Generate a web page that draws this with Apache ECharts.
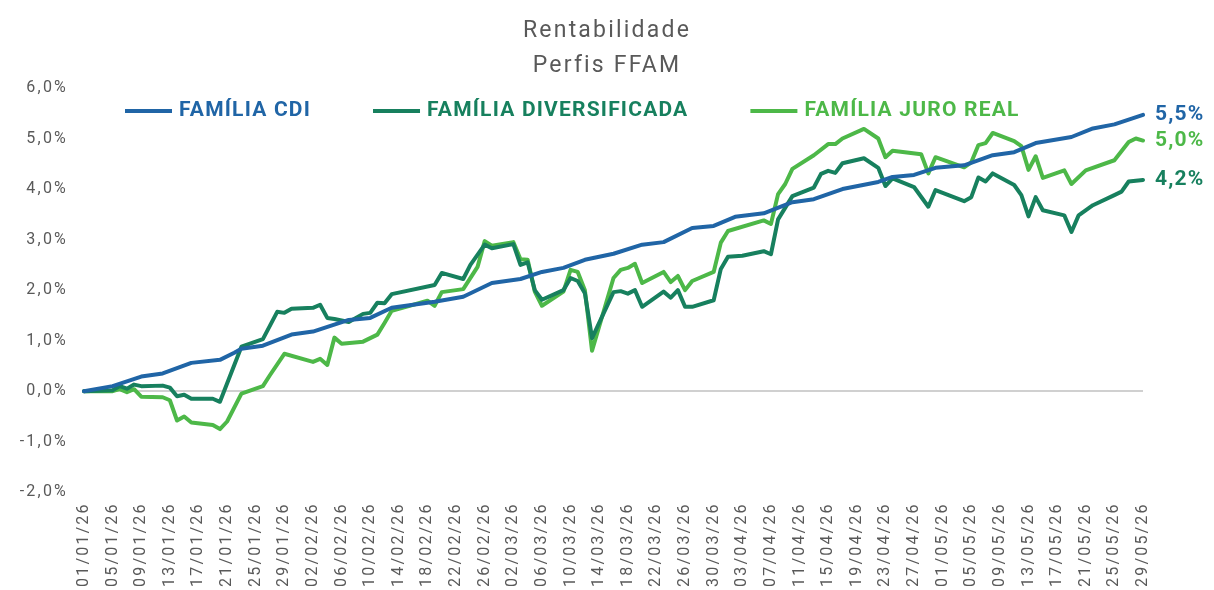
<!DOCTYPE html>
<html>
<head>
<meta charset="utf-8">
<script src="https://cdn.jsdelivr.net/npm/echarts@6/dist/echarts.min.js"></script>
<style>
html,body{margin:0;padding:0;background:#fff;}
#c{width:1214px;height:590px;}
</style>
</head>
<body>
<div id="c"></div>
<script>
// Day 0 = 01/01/26, last day = 29/05/26 (148)
const startDate = new Date(Date.UTC(2026, 0, 1));
const dayCount = 149;
const seriesNames = ['FAMÍLIA CDI', 'FAMÍLIA DIVERSIFICADA', 'FAMÍLIA JURO REAL'];
const seriesColors = ['#2065a6', '#17805e', '#4db848'];

// [day index, return %]
const cdiPoints = [[0,0],[4,0.10],[8,0.29],[11,0.35],[15,0.56],[19,0.62],[21,0.76],[22,0.84],[25,0.90],[29,1.12],[32,1.18],[37,1.41],[40,1.45],[43,1.65],[49,1.77],[53,1.87],[57,2.14],[61,2.22],[64,2.36],[67,2.44],[70,2.60],[74,2.72],[78,2.90],[81,2.95],[85,3.23],[88,3.27],[91,3.45],[95,3.52],[99,3.74],[102,3.80],[106,4.00],[111,4.14],[113,4.24],[116,4.28],[119,4.42],[123,4.47],[127,4.67],[130,4.73],[133,4.91],[138,5.03],[141,5.20],[144,5.28],[148,5.47]];

const divPoints = [[0,0],[4,0.02],[5,0.10],[6,0.05],[7,0.13],[8,0.10],[11,0.11],[12,0.07],[13,-0.10],[14,-0.07],[15,-0.15],[18,-0.15],[19,-0.21],[22,0.88],[25,1.03],[27,1.57],[28,1.55],[29,1.63],[32,1.65],[33,1.71],[34,1.45],[35,1.43],[37,1.37],[39,1.53],[40,1.55],[41,1.75],[42,1.74],[43,1.92],[49,2.10],[50,2.34],[53,2.22],[54,2.50],[56,2.90],[57,2.83],[60,2.91],[61,2.50],[62,2.55],[63,2.00],[64,1.81],[67,2.00],[68,2.24],[69,2.18],[70,1.94],[71,1.05],[74,1.96],[75,1.98],[76,1.93],[77,2.00],[78,1.67],[81,1.97],[82,1.85],[83,2.00],[84,1.67],[85,1.67],[88,1.80],[89,2.42],[90,2.66],[92,2.68],[95,2.77],[96,2.71],[97,3.40],[99,3.86],[102,4.03],[103,4.30],[104,4.36],[105,4.32],[106,4.51],[109,4.61],[111,4.42],[112,4.06],[113,4.21],[116,4.04],[118,3.65],[119,3.98],[123,3.76],[124,3.84],[125,4.23],[126,4.15],[127,4.31],[130,4.08],[131,3.88],[132,3.46],[133,3.84],[134,3.58],[137,3.48],[138,3.15],[139,3.48],[141,3.68],[144,3.88],[145,3.95],[146,4.15],[148,4.18]];

const juroPoints = [[0,0],[4,0],[5,0.04],[6,-0.02],[7,0.04],[8,-0.11],[11,-0.12],[12,-0.18],[13,-0.58],[14,-0.50],[15,-0.62],[18,-0.67],[19,-0.75],[20,-0.60],[22,-0.05],[25,0.10],[26,0.32],[28,0.74],[32,0.58],[33,0.64],[34,0.52],[35,1.06],[36,0.94],[39,0.98],[41,1.12],[42,1.35],[43,1.59],[48,1.79],[49,1.69],[50,1.96],[53,2.02],[55,2.46],[56,2.97],[57,2.88],[60,2.95],[61,2.61],[62,2.60],[63,1.97],[64,1.69],[67,1.97],[68,2.40],[69,2.36],[70,2.00],[71,0.80],[74,2.24],[75,2.40],[76,2.44],[77,2.52],[78,2.14],[81,2.36],[82,2.16],[83,2.28],[84,2.00],[85,2.18],[88,2.36],[89,2.94],[90,3.17],[95,3.38],[96,3.31],[97,3.90],[98,4.10],[99,4.40],[102,4.67],[104,4.89],[105,4.89],[106,5.00],[109,5.19],[111,5.00],[112,4.63],[113,4.76],[117,4.69],[118,4.31],[119,4.63],[123,4.43],[124,4.53],[125,4.87],[126,4.91],[127,5.11],[130,4.95],[131,4.85],[132,4.38],[133,4.65],[134,4.22],[137,4.37],[138,4.10],[140,4.37],[144,4.57],[146,4.93],[147,5.00],[148,4.96]];

// The reference text is set with a little letter spacing; apply it to canvas text drawing and measuring.
function spacingFor(font) {
  return /bold|700/.test(font || '') ? '1.2px' : '2.2px';
}
(function () {
  const P = CanvasRenderingContext2D.prototype;
  const origFill = P.fillText, origMeasure = P.measureText;
  P.fillText = function () { try { this.letterSpacing = spacingFor(this.font); } catch (e) {} return origFill.apply(this, arguments); };
  P.measureText = function () { try { this.letterSpacing = spacingFor(this.font); } catch (e) {} return origMeasure.apply(this, arguments); };
})();

const pad = n => (n < 10 ? '0' : '') + n;
const categories = [];
for (let i = 0; i < dayCount; i++) {
  const d = new Date(startDate.getTime() + i * 86400000);
  categories.push(pad(d.getUTCDate()) + '/' + pad(d.getUTCMonth() + 1) + '/' + String(d.getUTCFullYear()).slice(2));
}
function toSeries(points) {
  const arr = new Array(dayCount).fill(null);
  points.forEach(p => { arr[p[0]] = p[1]; });
  return arr;
}
const fmt = v => v.toFixed(1).replace('.', ',') + '%';
const allPoints = [cdiPoints, divPoints, juroPoints];

const chart = echarts.init(document.getElementById('c'), null, {renderer: 'canvas'});
const series = allPoints.map((pts, i) => ({
  name: seriesNames[i],
  type: 'line',
  data: toSeries(pts),
  connectNulls: true,
  showSymbol: false,
  symbol: 'none',
  smooth: false,
  z: 3 + (2 - i),
  lineStyle: {width: 4, color: seriesColors[i], cap: 'round', join: 'round'},
  itemStyle: {color: seriesColors[i]},
  endLabel: {
    show: true,
    formatter: p => fmt(p.value),
    color: seriesColors[i],
    fontFamily: 'Roboto',
    fontWeight: 'bold',
    fontSize: 21,
    distance: 12
  },
  markLine: i === 0 ? {
    silent: true,
    symbol: 'none',
    label: {show: false},
    lineStyle: {color: '#d0d0d0', width: 2, type: 'solid'},
    data: [{yAxis: 0}],
    z: 1
  } : undefined
}));

chart.setOption({
  animation: false,
  backgroundColor: '#ffffff',
  textStyle: {fontFamily: 'Roboto'},
  title: {
    text: 'Rentabilidade\nPerfis FFAM',
    left: 'center',
    top: 9,
    textStyle: {fontFamily: 'Roboto', fontSize: 23, fontWeight: 'normal', color: '#595959', lineHeight: 35}
  },
  legend: {
    left: 120,
    top: 95,
    itemWidth: 47,
    itemHeight: 4,
    itemGap: 62,
    icon: 'rect',
    data: seriesNames.map((n, i) => ({
      name: n,
      textStyle: {color: seriesColors[i]}
    })),
    textStyle: {fontFamily: 'Roboto', fontSize: 21, fontWeight: 'bold', padding: [0, 0, 0, 2]}
  },
  grid: {left: 84, right: 71, top: 88, bottom: 97, containLabel: false},
  xAxis: {
    type: 'category',
    data: categories,
    boundaryGap: false,
    axisLine: {show: false},
    axisTick: {show: false},
    axisLabel: {
      interval: 3,
      rotate: 90,
      margin: 10,
      color: '#595959',
      fontFamily: 'Roboto',
      fontSize: 16
    },
    splitLine: {show: false}
  },
  yAxis: {
    type: 'value',
    min: -2,
    max: 6,
    interval: 1,
    axisLine: {show: false},
    axisTick: {show: false},
    splitLine: {show: false},
    axisLabel: {
      formatter: v => fmt(v),
      color: '#595959',
      fontFamily: 'Roboto',
      fontSize: 16,
      margin: 16
    }
  },
  series: series
});
</script>
</body>
</html>
